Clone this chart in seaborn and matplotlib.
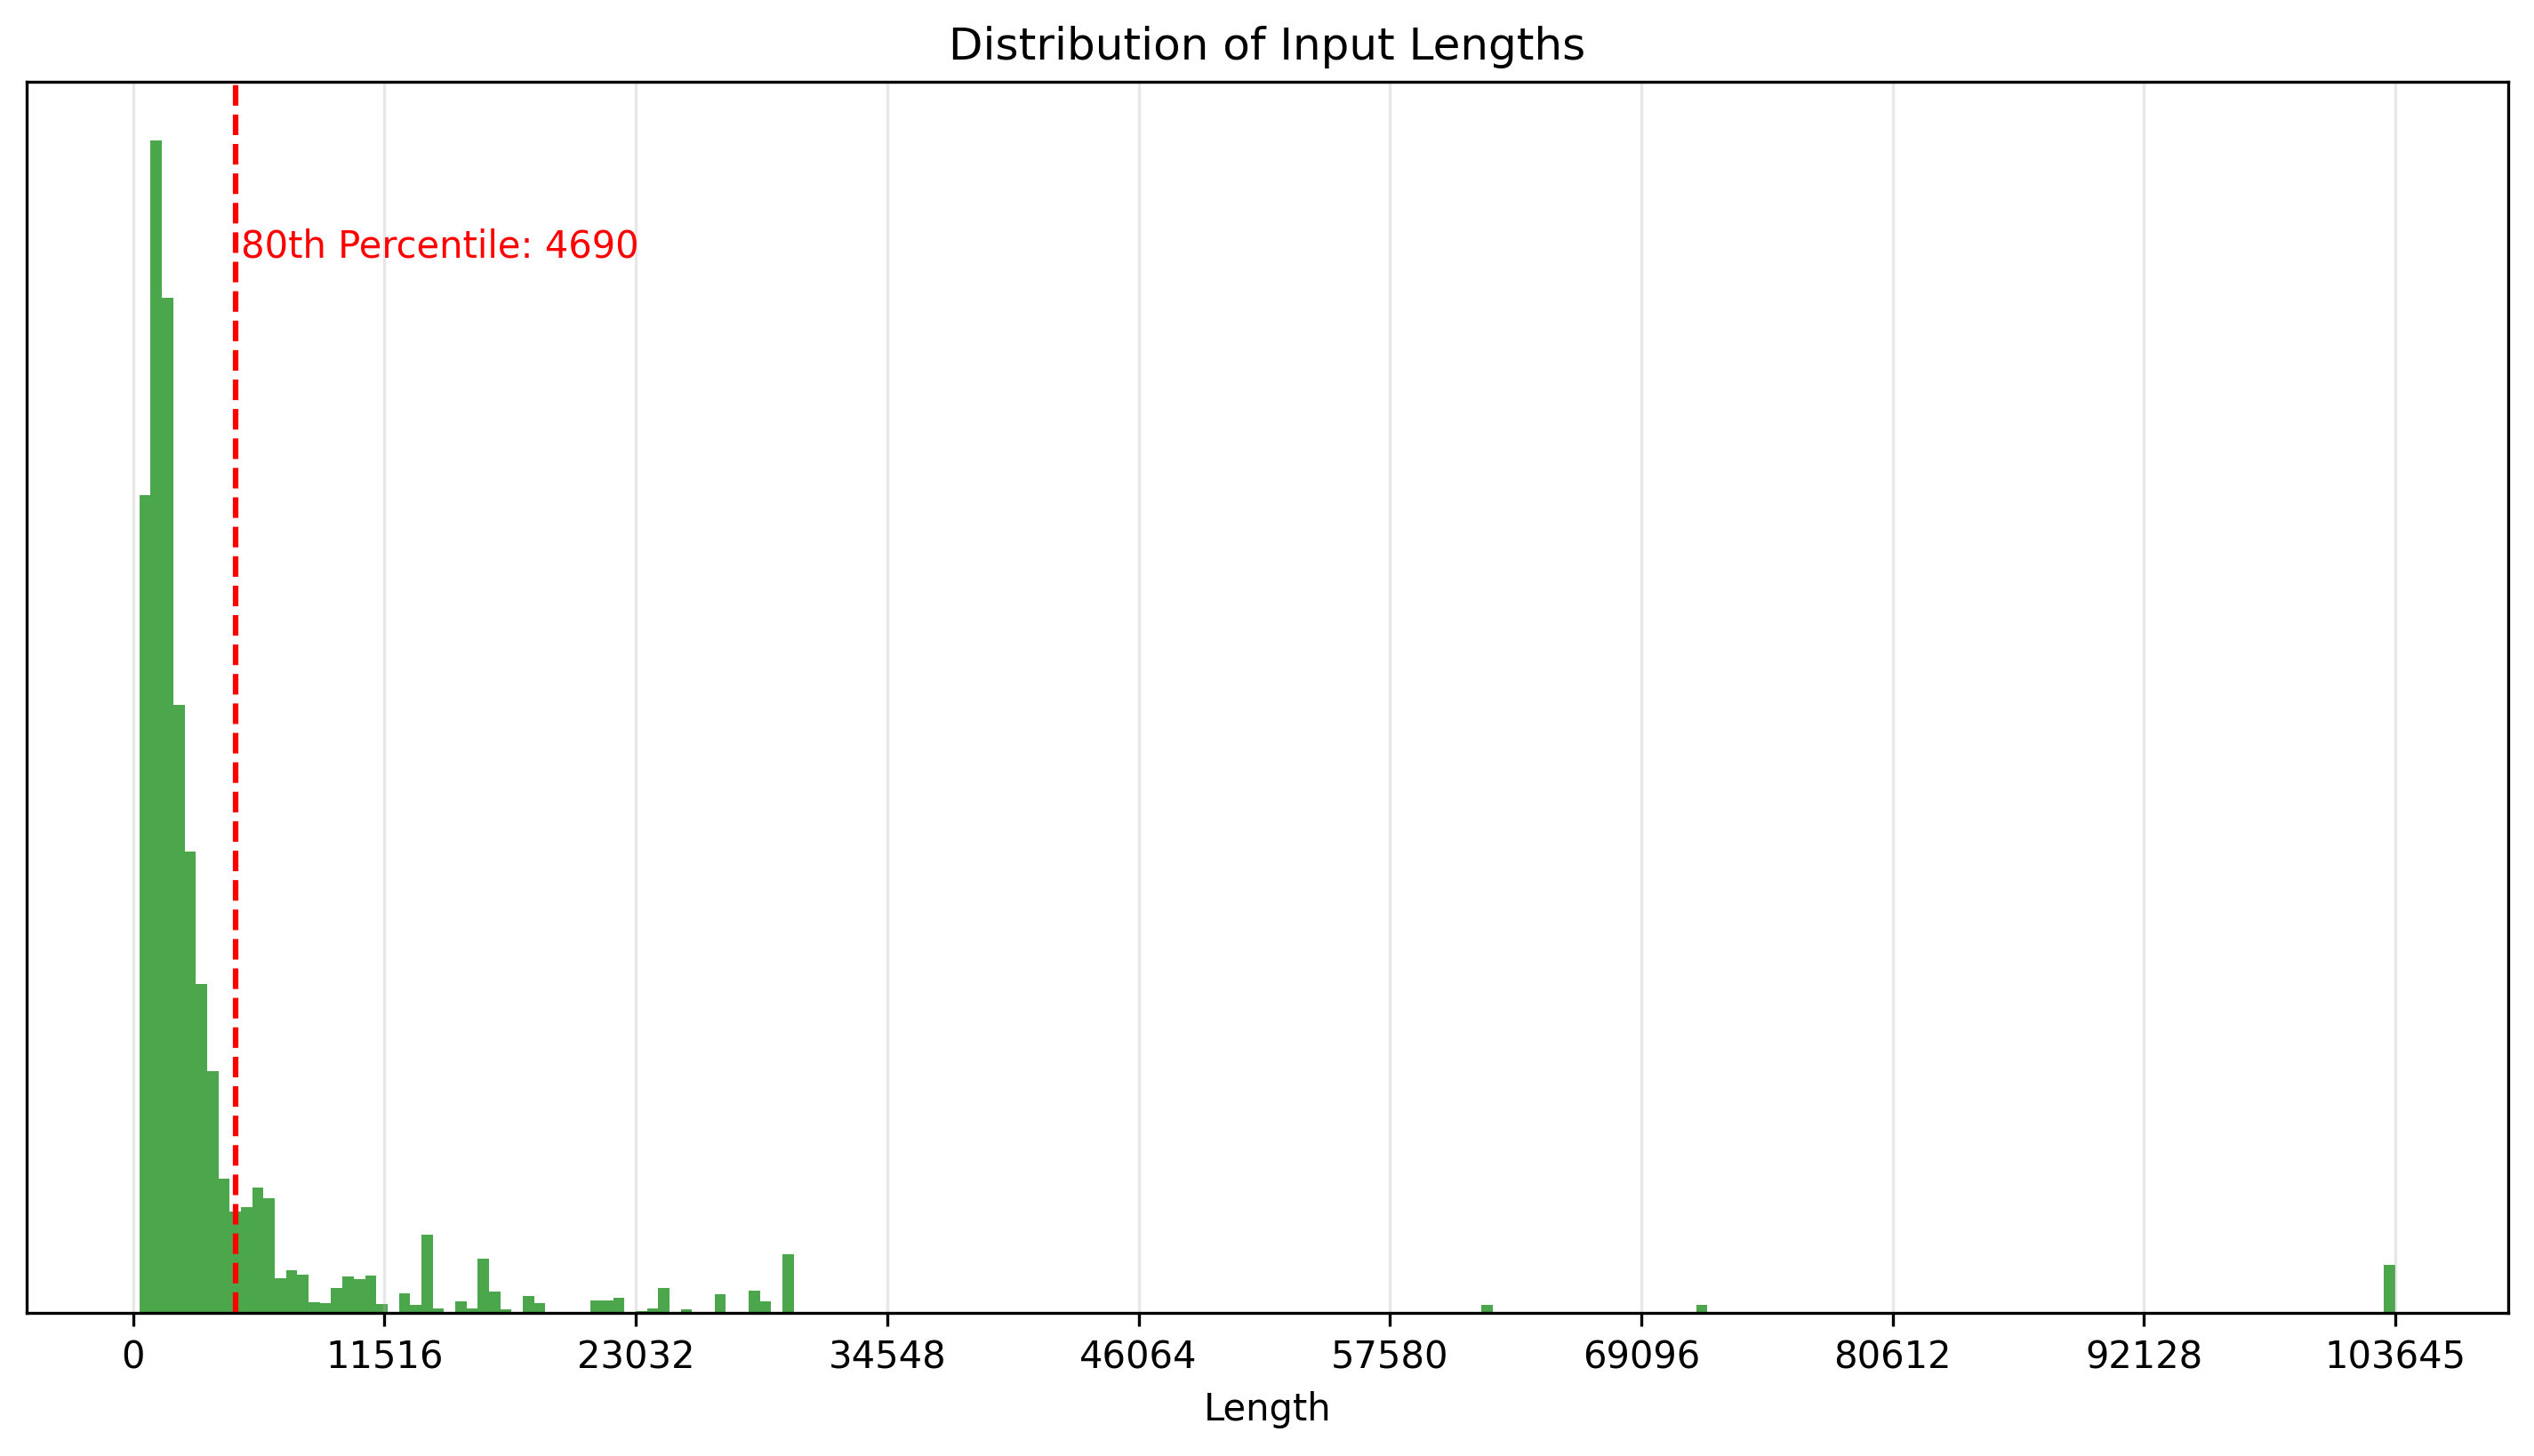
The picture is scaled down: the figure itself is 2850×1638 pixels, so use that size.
import numpy as np
import pandas as pd
import matplotlib
matplotlib.use("Agg")
import matplotlib.pyplot as plt
import seaborn as sns

# histogram of input lengths: 200 equal-width bins between min and max length
min_length = 285
max_length = 103645
n_bins = 200
percentile_80 = 4690

# counts for the first 58 bins
head_counts = [
    920, 1319, 1142, 684, 519, 370, 272, 151, 114, 119,
    141, 129, 39, 48, 43, 12, 11, 28, 41, 38,
    42, 10, 0, 22, 9, 88, 5, 1, 13, 5,
    61, 24, 4, 0, 19, 11, 0, 0, 0, 0,
    14, 14, 17, 0, 2, 5, 28, 0, 4, 0,
    0, 21, 0, 0, 25, 13, 0, 66,
]
# isolated long inputs further out: bin index -> count
tail_counts = {119: 9, 138: 9, 199: 54}

tick_values = [0, 11516, 23032, 34548, 46064, 57580, 69096, 80612, 92128, 103645]
tick_labels = ["0", "11516", "23032", "34548", "46064", "57580",
               "69096", "80612", "92128", "103645"]

# build the per-bin table
edges = np.linspace(min_length, max_length, n_bins + 1)
counts = np.zeros(n_bins)
counts[:len(head_counts)] = head_counts
for idx, c in tail_counts.items():
    counts[idx] = c
df = pd.DataFrame({
    "length": (edges[:-1] + edges[1:]) / 2,
    "count": counts,
})

fig = plt.figure(figsize=(9.5, 5.46), dpi=300)
ax = fig.add_axes([0.0105, 0.0983, 0.9793, 0.8455])

sns.histplot(data=df, x="length", weights="count", bins=n_bins,
             binrange=(min_length, max_length), color="green",
             alpha=0.7, linewidth=0, ax=ax)

ax.axvline(percentile_80, color="red", linestyle="--", linewidth=1.5)
ax.text(percentile_80 * 1.05, max(head_counts) * 0.9,
        f"80th Percentile: {percentile_80}", color="red", fontsize=10)

ax.set_title("Distribution of Input Lengths", fontsize=12)
ax.set_xlabel("Length")
ax.set_ylabel("")
ax.set_yticks([])
ax.set_xticks(tick_values)
ax.set_xticklabels(tick_labels)
ax.grid(axis="x", alpha=0.3)

fig.savefig("out.png", dpi=300)
